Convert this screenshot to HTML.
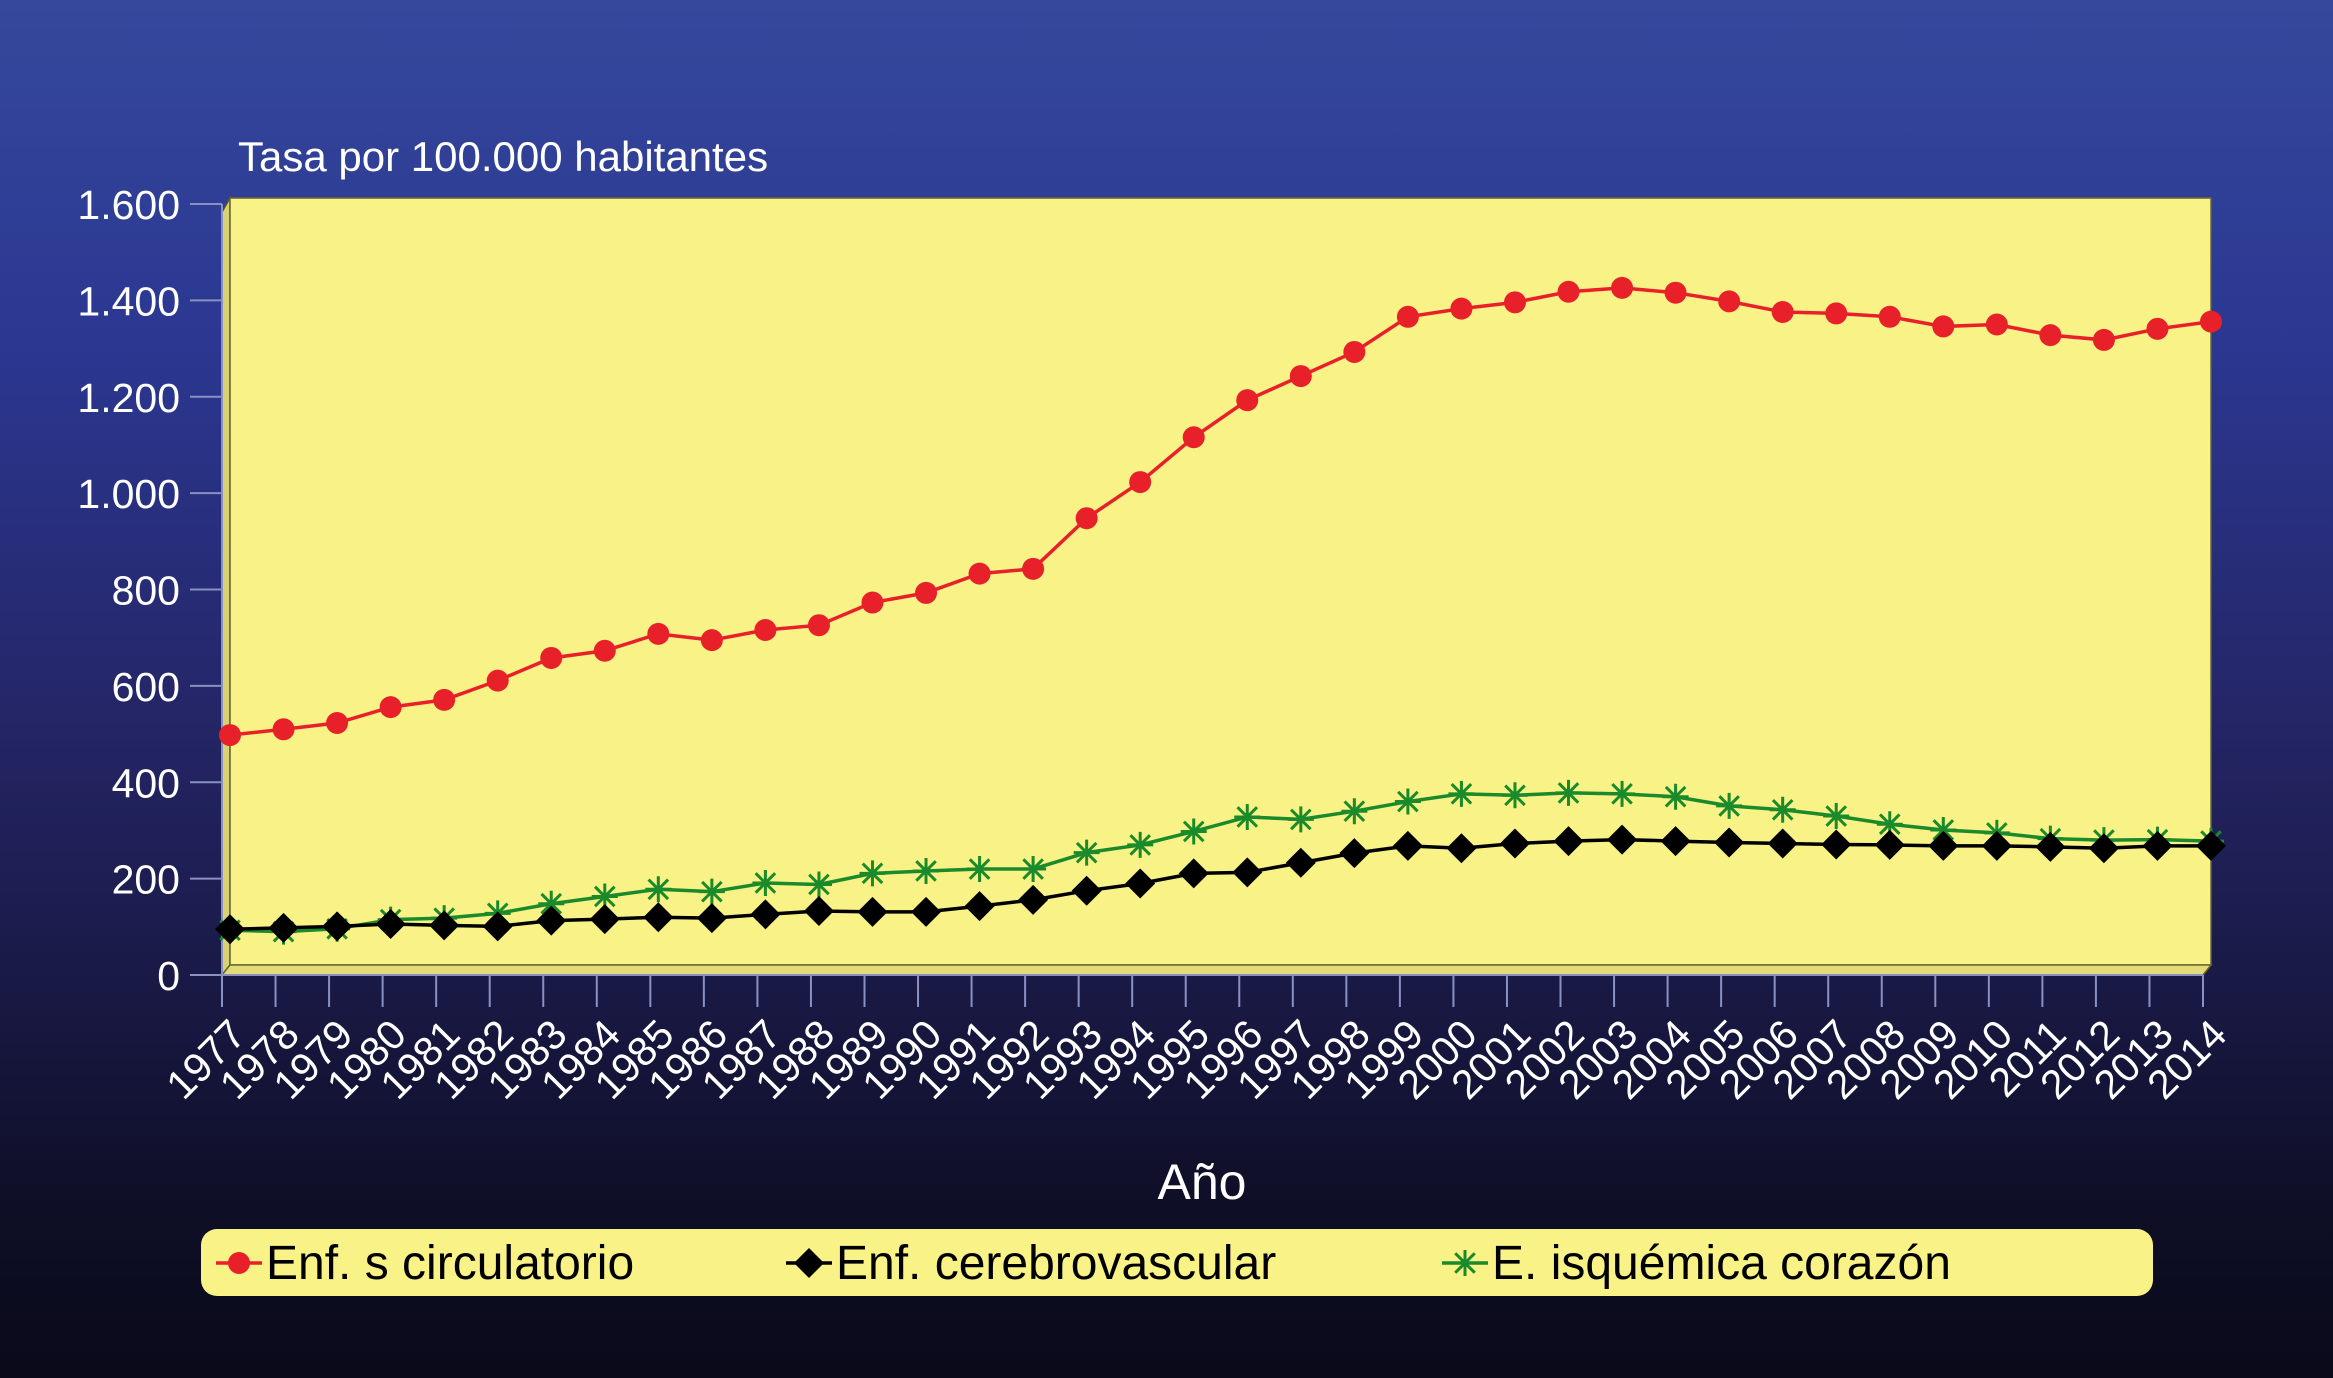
<!DOCTYPE html>
<html><head><meta charset="utf-8">
<style>
html,body{margin:0;padding:0;}
body{width:2333px;height:1378px;overflow:hidden;background:linear-gradient(180deg,#35489c 0%,#2b3791 25%,#25276a 50%,#1a1a48 70%,#0e0e26 88%,#0a0a1a 100%);font-family:"Liberation Sans",sans-serif;}
svg{position:absolute;left:0;top:0;}
</style></head>
<body>
<svg width="2333" height="1378">
<g id="frame"></g>
<g id="marks"></g>
<g id="legend"></g>
</svg>
<script>
const years=[1977,1978,1979,1980,1981,1982,1983,1984,1985,1986,1987,1988,1989,1990,1991,1992,1993,1994,1995,1996,1997,1998,1999,2000,2001,2002,2003,2004,2005,2006,2007,2008,2009,2010,2011,2012,2013,2014];
const circulatorio=[500,512,525,558,573,613,660,675,710,697,718,728,775,795,835,845,950,1025,1118,1195,1245,1295,1368,1385,1398,1420,1428,1418,1400,1378,1375,1368,1348,1352,1330,1320,1343,1358];
const cerebro=[97,100,103,108,105,103,115,118,122,120,128,135,133,133,145,158,177,192,213,215,235,255,270,265,275,280,283,280,277,275,273,272,270,270,268,265,270,270];
const isquemica=[95,92,98,117,120,130,150,165,180,175,193,190,213,218,222,222,256,272,300,330,325,342,362,378,375,380,378,372,353,345,332,315,303,297,285,282,283,280];
const yTicks=[0,200,400,600,800,1000,1200,1400,1600];
const yTickLabels=["0","200","400","600","800","1.000","1.200","1.400","1.600"];

const NS="http://www.w3.org/2000/svg";
function mk(tag,attrs,parent,text){const e=document.createElementNS(NS,tag);for(const k in attrs)e.setAttribute(k,attrs[k]);if(text!==undefined)e.textContent=text;parent.appendChild(e);return e;}
const X0=230,X1=2211,Y0=975,Y1=204,DX=8,DY=10;
const xs=i=>X0+i*(X1-X0)/(years.length-1);
const ys=v=>Y0-v/1600*(Y0-Y1);
const yd=v=>ys(v)+1;
const frame=document.getElementById('frame'),marks=document.getElementById('marks'),legend=document.getElementById('legend');

let e;
e=mk('polygon',{points:`${X0-DX},${Y1+DY-2} ${X0},${Y1-6} ${X0},${Y0-DY} ${X0-DX},${Y0}`,fill:'#d9d274',stroke:'#55552a','stroke-width':1.5},frame);

e=mk('rect',{x:X0,y:Y1-6,width:X1-X0,height:Y0-DY-(Y1-6),fill:'#f8f287',stroke:'#66662f','stroke-width':1.5},frame);

e=mk('polygon',{points:`${X0-DX},${Y0} ${X0},${Y0-DY} ${X1},${Y0-DY} ${X1-DX},${Y0}`,fill:'#e2db78',stroke:'#66662f','stroke-width':1.5},frame);

e=mk('line',{x1:X0-DX,y1:Y1,x2:X0-DX,y2:Y0,stroke:'#8a90c0','stroke-width':2},frame);

e=mk('line',{x1:X0-DX,y1:Y0,x2:X1-DX,y2:Y0,stroke:'#8a90c0','stroke-width':2},frame);


yTicks.forEach((v,i)=>{
 const t=mk('line',{x1:190,y1:ys(v),x2:X0-DX,y2:ys(v),stroke:'#8a90c0','stroke-width':2},frame);
 
 const l=mk('text',{x:180,y:ys(v)+15,'text-anchor':'end','font-size':41,fill:'#fff'},frame,yTickLabels[i]);
 
});
years.forEach((yr,i)=>{
 const x=xs(i)-DX;
 const t=mk('line',{x1:x,y1:Y0,x2:x,y2:Y0+32,stroke:'#8a90c0','stroke-width':2},frame);
 
 const l=mk('text',{x:x+26,y:Y0+62,'text-anchor':'end','font-size':41,fill:'#fff',transform:`rotate(-45 ${x+26} ${Y0+62})`},frame,String(yr));
 
});
e=mk('text',{x:238,y:171,'font-size':42,fill:'#fff'},frame,'Tasa por 100.000 habitantes');

e=mk('text',{x:1202,y:1199,'text-anchor':'middle','font-size':50,fill:'#fff'},frame,'Año');


function circle(g,x,y){return mk('circle',{cx:x,cy:y,r:11,fill:'#e8202a'},g);}
function diamond(g,x,y){return mk('polygon',{points:`${x},${y-15} ${x+15},${y} ${x},${y+15} ${x-15},${y}`,fill:'#000'},g);}
function star(g,x,y){const s=13;return mk('path',{d:`M${x-s},${y} L${x+s},${y} M${x},${y-s} L${x},${y+s} M${x-s*.75},${y-s*.75} L${x+s*.75},${y+s*.75} M${x-s*.75},${y+s*.75} L${x+s*.75},${y-s*.75}`,stroke:'#1a8a2a','stroke-width':3,fill:'none'},g);}

function series(vals,color,w,markerFn,name){
 const g=mk('g',{},marks);
 
 const p=mk('polyline',{points:vals.map((v,i)=>`${xs(i)},${yd(v)}`).join(' '),fill:'none',stroke:color,'stroke-width':w},g);
 
 vals.forEach((v,i)=>{const m=markerFn(g,xs(i),yd(v));
  });
}
series(isquemica,'#1a8a2a',3.5,star,'series-isquemica');
series(cerebro,'#000',3.5,diamond,'series-cerebrovascular');
series(circulatorio,'#e8202a',3.5,circle,'series-circulatorio');

e=mk('rect',{x:201,y:1229,width:1952,height:67,rx:16,fill:'#f8f287'},legend);

const items=[[216,'#e8202a',circle,'Enf. s circulatorio'],[786,'#000',diamond,'Enf. cerebrovascular'],[1442,'#1a8a2a',star,'E. isquémica corazón']];
items.forEach(([x,c,fn,label])=>{
 const g=mk('g',{},legend);
 
 const ln=mk('line',{x1:x,y1:1263,x2:x+46,y2:1263,stroke:c,'stroke-width':3.5},g);
 
 const m=fn(g,x+23,1263);
 
 const t=mk('text',{x:x+50,y:1279,'font-size':48,fill:'#000'},g,label);
 
});
</script>
</body></html>
